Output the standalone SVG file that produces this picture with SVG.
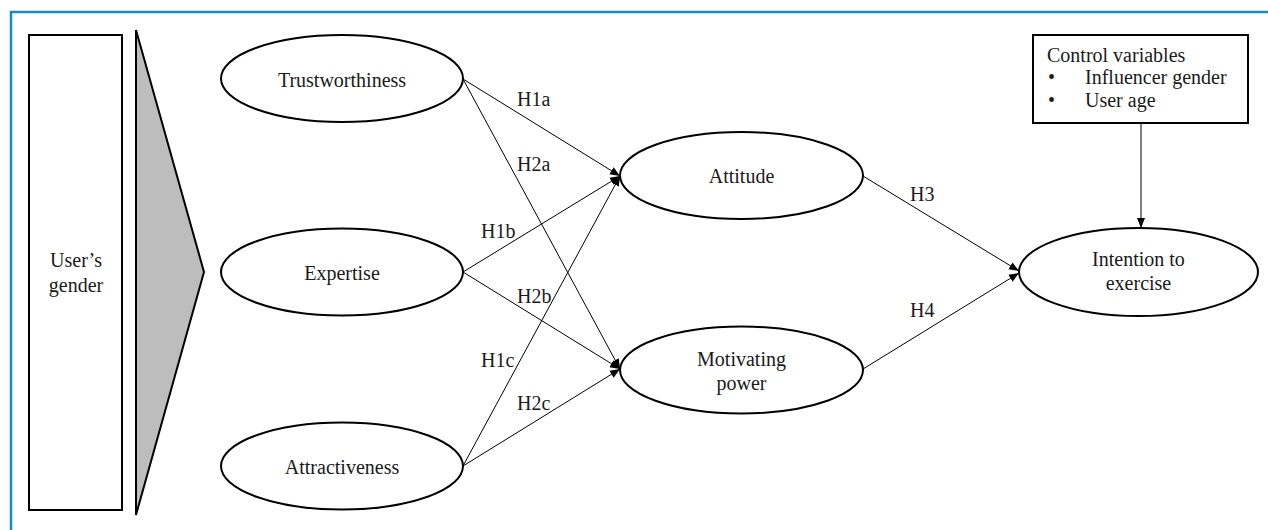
<svg xmlns="http://www.w3.org/2000/svg" width="1268" height="530" viewBox="0 0 1268 530">
<style>
.n{fill:#fff;stroke:#000;stroke-width:2}
.t{font-family:"Liberation Serif","Times New Roman",serif;font-size:20px;fill:#1a1a1a}
.c{text-anchor:middle}
.e{stroke:#000;stroke-width:1;fill:none;marker-end:url(#ah)}
</style>
<defs>
<marker id="ah" viewBox="0 0 10 10" refX="10" refY="5" markerWidth="10" markerHeight="10" markerUnits="userSpaceOnUse" orient="auto">
<path d="M0,1 L10,5 L0,9 Z" fill="#000"/>
</marker>
</defs>
<rect width="1268" height="530" fill="#fff"/>
<path d="M11,530 L11,12 L1268,12" fill="none" stroke="#1a8ac6" stroke-width="2.5"/>
<g id="gender">
<rect class="n" x="29" y="35" width="93" height="475"/>
<text class="t c" x="76" y="267">User’s</text>
<text class="t c" x="76" y="292">gender</text>
</g>
<g id="wedge">
<path d="M136,30 L204,272 L136,515 Z" fill="#bdbdbd" stroke="#000" stroke-width="2"/>
</g>
<g id="trust">
<ellipse class="n" cx="342" cy="78.5" rx="121" ry="43.5"/>
<text class="t c" x="342" y="87">Trustworthiness</text>
</g>
<g id="expertise">
<ellipse class="n" cx="342" cy="272" rx="121" ry="43.5"/>
<text class="t c" x="342" y="280">Expertise</text>
</g>
<g id="attract">
<ellipse class="n" cx="342" cy="466" rx="121" ry="43.5"/>
<text class="t c" x="342" y="474">Attractiveness</text>
</g>
<g id="attitude">
<ellipse class="n" cx="741.5" cy="175.5" rx="121.5" ry="43.5"/>
<text class="t c" x="741.5" y="183">Attitude</text>
</g>
<g id="motivating">
<ellipse class="n" cx="741.5" cy="370" rx="121.5" ry="43.5"/>
<text class="t c" x="741.5" y="366">Motivating</text>
<text class="t c" x="741.5" y="390">power</text>
</g>
<g id="intention">
<ellipse class="n" cx="1138.5" cy="272" rx="119.5" ry="44"/>
<text class="t c" x="1138.5" y="266">Intention to</text>
<text class="t c" x="1138.5" y="290">exercise</text>
</g>
<g id="controls">
<rect class="n" x="1033" y="35" width="215" height="88"/>
<text class="t" x="1047" y="62">Control variables</text>
<text class="t" x="1048" y="84">•</text>
<text class="t" x="1085" y="84">Influencer gender</text>
<text class="t" x="1048" y="107">•</text>
<text class="t" x="1085" y="107">User age</text>
</g>
<g id="connectors">
<line class="e" x1="463" y1="79" x2="620" y2="176"/>
<line class="e" x1="463" y1="79" x2="620" y2="369"/>
<line class="e" x1="463" y1="272" x2="620" y2="176"/>
<line class="e" x1="463" y1="272" x2="620" y2="369"/>
<line class="e" x1="463" y1="466" x2="620" y2="176"/>
<line class="e" x1="463" y1="466" x2="620" y2="369"/>
<line class="e" x1="863" y1="176" x2="1019" y2="271"/>
<line class="e" x1="863" y1="369" x2="1019" y2="273"/>
<line class="e" x1="1141" y1="123" x2="1141" y2="228"/>
<text class="t" x="517" y="106">H1a</text>
<text class="t" x="517" y="171">H2a</text>
<text class="t" x="481" y="238">H1b</text>
<text class="t" x="517" y="303">H2b</text>
<text class="t" x="481" y="367">H1c</text>
<text class="t" x="517" y="410">H2c</text>
<text class="t" x="910" y="201">H3</text>
<text class="t" x="910" y="317">H4</text>
</g>
</svg>
